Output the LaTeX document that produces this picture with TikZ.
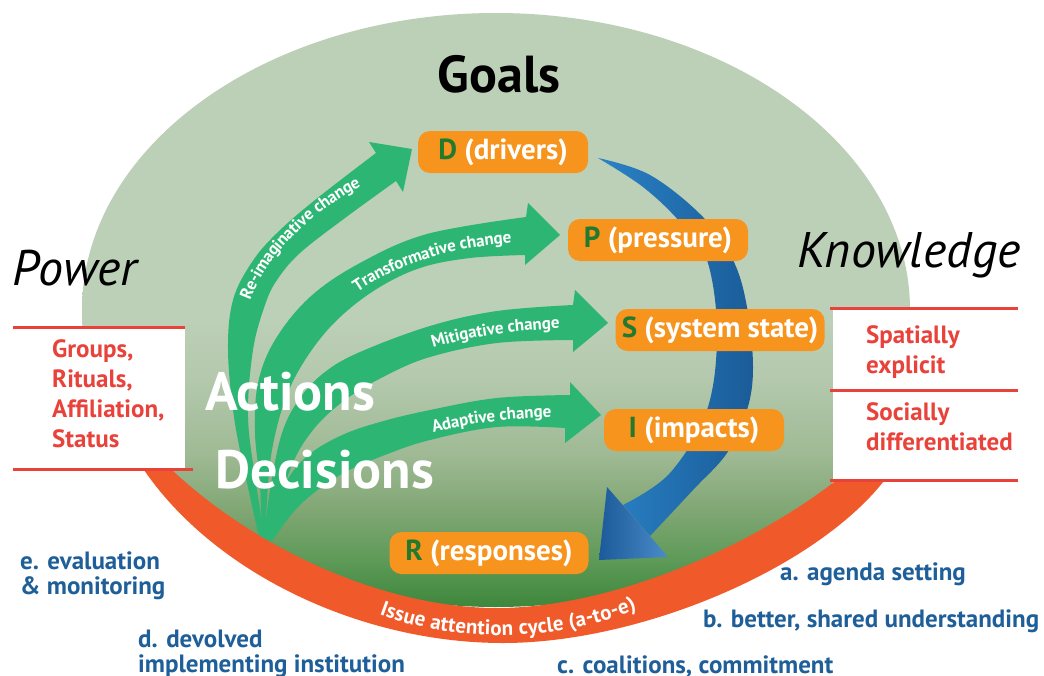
\documentclass[tikz,border=0pt]{standalone}
\usepackage{fontspec}
\setmainfont{PT Sans}
\usetikzlibrary{decorations.text}
\definecolor{sage}{HTML}{BCCFB7}
\definecolor{gD}{HTML}{B3C8AC}
\definecolor{gC}{HTML}{A0BA95}
\definecolor{gB}{HTML}{7FA673}
\definecolor{gA}{HTML}{5E9A58}
\definecolor{gdark}{HTML}{3E873C}
\definecolor{arrowgreen}{HTML}{2DB673}
\definecolor{boxorange}{HTML}{F7941D}
\definecolor{bandorange}{HTML}{F05A2A}
\definecolor{lettergreen}{HTML}{237A2E}
\definecolor{textred}{HTML}{E8423A}
\definecolor{textblue}{HTML}{1F5F99}
\definecolor{blueA}{HTML}{2A82C6}
\definecolor{blueB}{HTML}{1A5C98}
\definecolor{headA}{HTML}{1C5A99}
\definecolor{headB}{HTML}{4A8BCA}
\pgfdeclareverticalshading{ellfade}{100bp}{color(0bp)=(gdark); color(25bp)=(gdark); color(29bp)=(gA); color(33bp)=(gB); color(38bp)=(gC); color(44bp)=(gD); color(49bp)=(sage); color(100bp)=(sage)}
\begin{document}
\begin{tikzpicture}[x=1pt,y=-1pt,
  dpbox/.style={fill=boxorange, rounded corners=12pt, inner sep=0pt, minimum height=42pt, text=white, font=\bfseries\fontsize{29}{29}\selectfont},
  bigwhite/.style={text=white, font=\bfseries\fontsize{54}{54}\selectfont, inner sep=0pt, anchor=base west},
  bigital/.style={text=black, font=\itshape\fontsize{50}{50}\selectfont, inner sep=0pt, anchor=base west},
  redtxt/.style={text=textred, font=\bfseries\fontsize{25}{25}\selectfont, inner sep=0pt, anchor=base west},
  bluetxt/.style={text=textblue, font=\bfseries\fontsize{25}{25}\selectfont, inner sep=0pt, anchor=base west},
  redline/.style={draw=textred, line width=3pt},
  garrow/.style={fill=arrowgreen},
  alongtxt/.style={decorate, decoration={text along path, text color=white, text align=center, raise=-6pt, text={|\bfseries\fontsize{17}{17}\selectfont|#1}}}
]
\useasboundingbox (0,0) rectangle (1044,675);
\fill[white] (0,0) rectangle (1044,675);

% green ellipse
\shade[shading=ellfade] (496,310) ellipse [x radius=414pt, y radius=297pt];

% green arrows
\fill[garrow] plot[smooth, tension=0.6] coordinates {(260,541) (247,483) (234,417) (228,350) (233,300) (252,262) (277,233) (315,200) (376,153)}
  -- (369,142) -- (412,149) -- (403,192) --
  plot[smooth, tension=0.6] coordinates {(396,181) (345,218) (300,253) (277,280) (265,305) (253,350) (248,417) (256,483) (265,541)} -- cycle;
\fill[garrow] plot[smooth, tension=0.6] coordinates {(262,541) (260,483) (255,433) (258,383) (275,340) (310,297) (360,263) (427,234) (526,217)}
  -- (528,203) -- (560,235) -- (525,265) --
  plot[smooth, tension=0.6] coordinates {(525,255) (470,258) (420,268) (375,290) (335,322) (305,360) (285,400) (272,450) (267,500) (266,541)} -- cycle;
\fill[garrow] plot[smooth, tension=0.6] coordinates {(264,541) (270,490) (282,433) (300,398) (325,372) (360,352) (430,326) (497,311) (573,305)}
  -- (575,290) -- (608,323) -- (573,352) --
  plot[smooth, tension=0.6] coordinates {(573,340) (497,343) (430,357) (385,376) (345,400) (313,430) (290,470) (270,541)} -- cycle;
\fill[garrow] plot[smooth, tension=0.6] coordinates {(266,541) (282,490) (305,458) (340,436) (380,422) (430,410) (497,398) (570,395)}
  -- (570,382) -- (601,415) -- (565,443) --
  plot[smooth, tension=0.6] coordinates {(565,428) (497,427) (430,440) (385,455) (340,475) (300,505) (272,541)} -- cycle;

% arrow labels
\path[alongtxt={Re-imaginative change}] (236,335) .. controls (243,265) and (300,205) .. (392,164);
\path[alongtxt={Transformative change}] (342,296) .. controls (385,262) and (445,240) .. (526,236);
\path[alongtxt={Mitigative change}] (412,349) .. controls (455,332) and (512,323) .. (580,322);
\path[alongtxt={Adaptive change}] (412,433) .. controls (455,418) and (510,411) .. (572,411);

% orange band
\fill[bandorange] (108,395) .. controls (150,540) and (330,643) .. (503,643)
  .. controls (680,643) and (920,520) .. (915,400)
  .. controls (840,510) and (640,608) .. (497,608)
  .. controls (360,608) and (190,520) .. (108,395) -- cycle;
\path[decorate, decoration={text along path, text color=white, text align=center, raise=-7pt, text={|\bfseries\fontsize{21}{21}\selectfont|Issue attention cycle (a-to-e)}}] (335,585) .. controls (430,645) and (585,642) .. (680,578);

% blue arrow
\shade[left color=blueA, right color=blueB] plot[smooth, tension=0.6] coordinates {(598,158) (650,175) (703,217) (733,260) (747,307) (753,367) (747,410) (727,453) (693,490) (650,536)}
  -- (623,505) --
  plot[smooth, tension=0.6] coordinates {(623,505) (670,473) (707,410) (717,333) (707,260) (680,222) (643,187) (598,158)} -- cycle;
\shade[left color=headA, right color=headB] (607,487) -- (668,557) -- (599,560) -- cycle;

% DPSIR boxes
\node[dpbox, minimum width=170pt] (D) at (503,152) {\textcolor{lettergreen}{D} (drivers)};
\node[dpbox, minimum width=180pt] (P) at (658,240) {\textcolor{lettergreen}{P} (pressure)};
\node[dpbox, minimum width=209pt] (S) at (720,330) {\textcolor{lettergreen}{S} (system state)};
\node[dpbox, minimum width=180pt] (I) at (694,430) {\textcolor{lettergreen}{I} (impacts)};
\node[dpbox, minimum width=199pt] (R) at (489,553) {\textcolor{lettergreen}{R} (responses)};

% big words
\node[anchor=base, inner sep=0pt, font=\bfseries\fontsize{52}{52}\selectfont] (goals) at (499,92) {Goals};
\node[bigital] (power) at (12,285) {Power};
\node[bigital] (knowledge) at (797,267) {Knowledge};
\node[bigwhite] (actions) at (205,410) {Actions};
\node[bigwhite] (decisions) at (215,488) {Decisions};

% left box
\fill[white] (13,327) rectangle (185,469);
\draw[redline] (13,327) -- (185,327);
\draw[redline] (13,469) -- (193,469);
\node[redtxt] (l1) at (52,357) {Groups,};
\node[redtxt] (l2) at (52,387) {Rituals,};
\node[redtxt] (l3) at (52,417) {Affiliation,};
\node[redtxt] (l4) at (52,447) {Status};

% right box
\fill[white] (833,308) rectangle (1018,480);
\draw[redline] (830,308) -- (1018,308);
\draw[redline] (830,390) -- (1018,390);
\draw[redline] (830,480) -- (1018,480);
\node[redtxt] (r1) at (866,343) {Spatially};
\node[redtxt] (r2) at (866,373) {explicit};
\node[redtxt] (r3) at (866,420) {Socially};
\node[redtxt] (r4) at (866,450) {differentiated};

% cycle stages
\node[bluetxt] (e1) at (20,569) {e. evaluation};
\node[bluetxt] (e2) at (20,594) {\& monitoring};
\node[bluetxt] (d1) at (138,647) {d. devolved};
\node[bluetxt] (d2) at (138,672) {implementing institution};
\node[bluetxt] (a) at (780,580) {a. agenda setting};
\node[bluetxt] (b) at (703,627) {b. better, shared understanding};
\node[bluetxt] (c) at (557,673) {c. coalitions, commitment};
\end{tikzpicture}
\end{document}
